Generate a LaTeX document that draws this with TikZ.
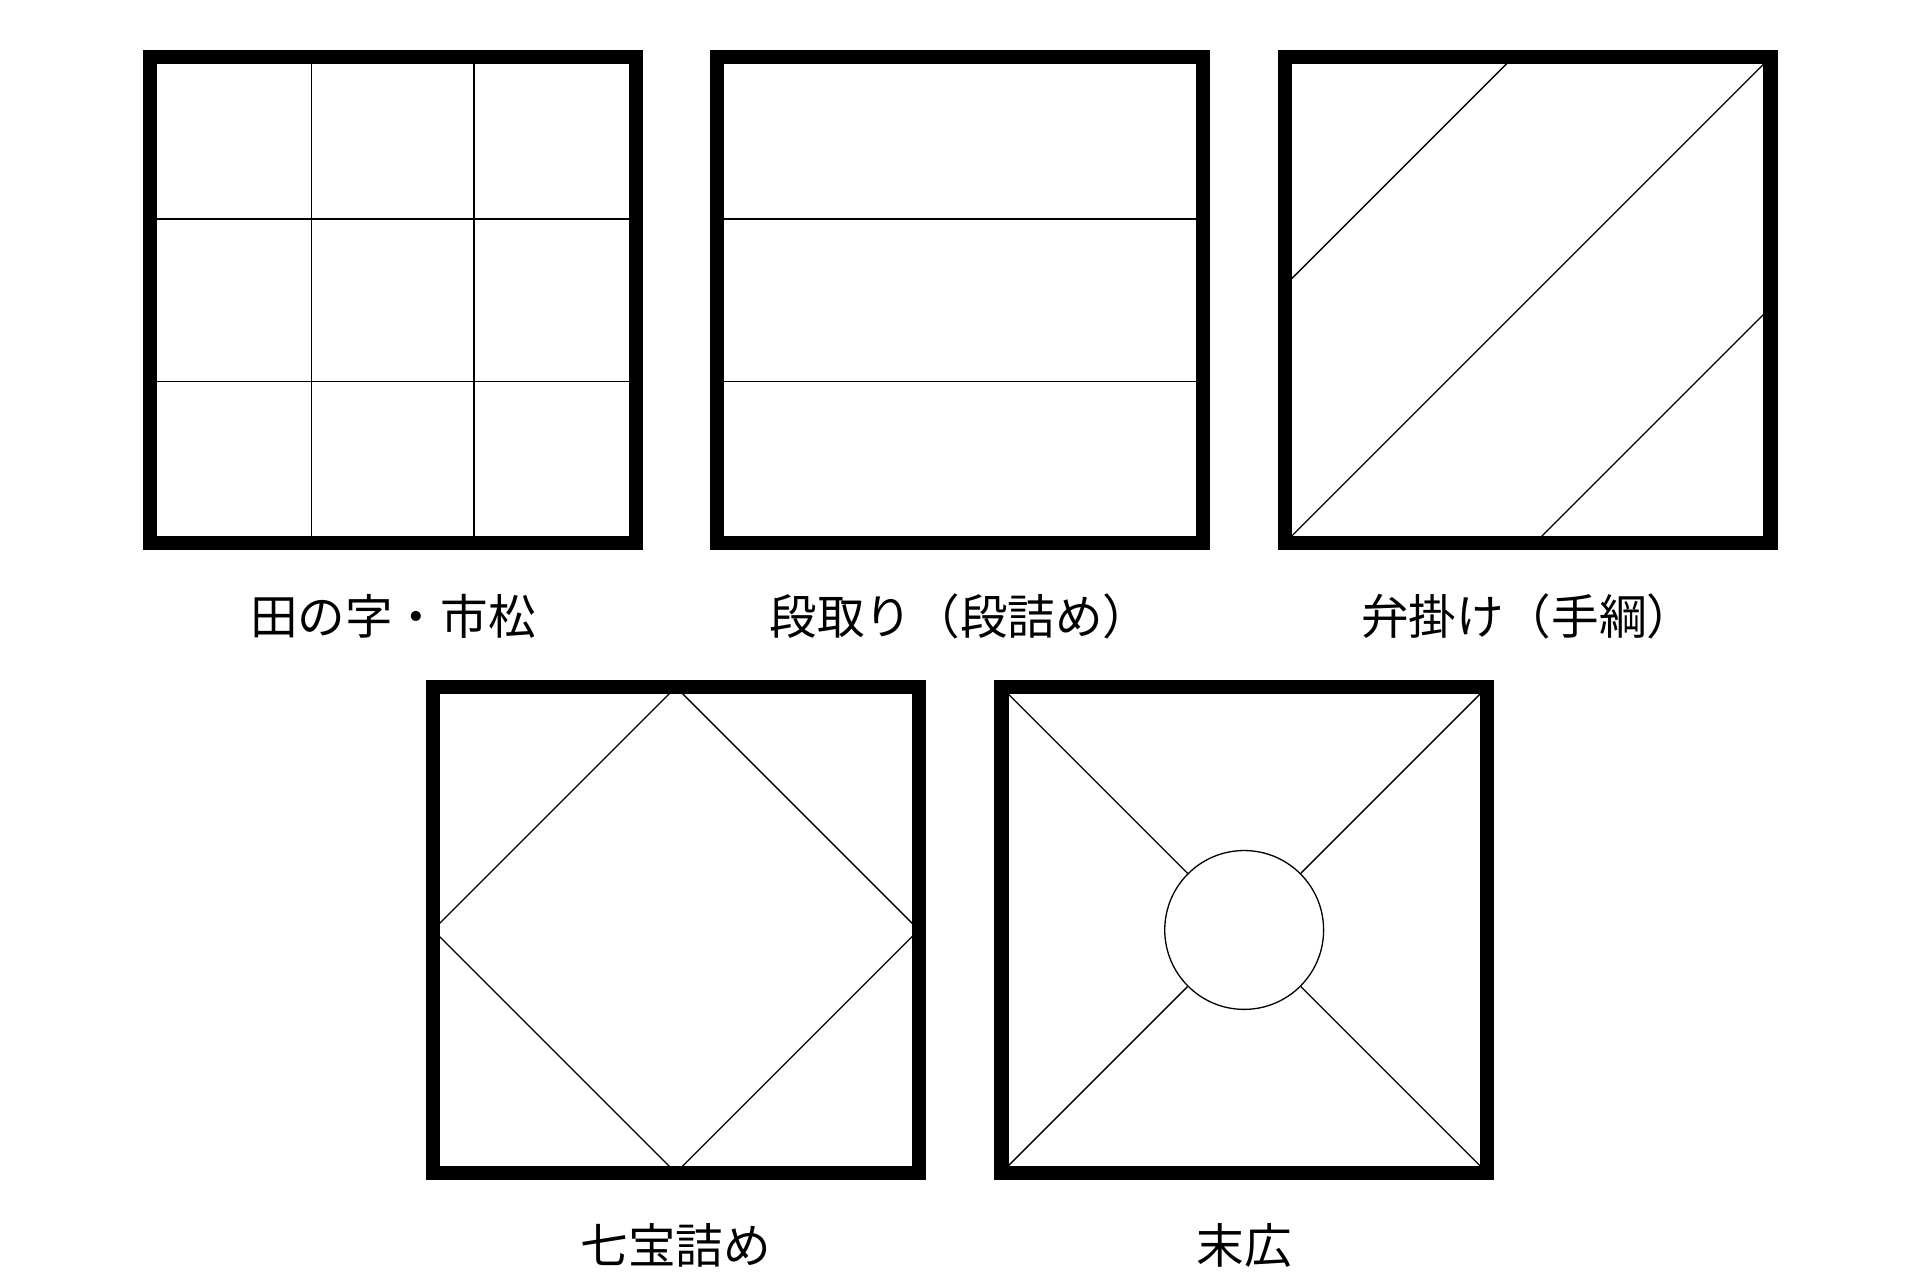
\documentclass[tikz,border=0pt]{standalone}
\usepackage{fontspec}
\newfontfamily\jpfont{Noto Sans CJK JP}
\usetikzlibrary{positioning,calc}

\begin{document}
\begin{tikzpicture}[x=0.01cm,y=-0.01cm]
 \tikzset{panel/.style={draw,line width=0.118cm,minimum size=3.945cm,inner sep=0,outer sep=0},
  seam/.style={line width=0.3pt},
  hub/.style={draw,circle,line width=0.3pt,minimum size=1.29cm,inner sep=0},
  caption/.style={font=\jpfont\fontsize{11pt}{13pt}\selectfont}}
 \useasboundingbox (0,0) rectangle (1560,1040);

 \node[panel] (tanoji) at (319.2,243.8) {};
 \node[panel] (dandori) at (780,243.8) {};
 \node[panel] (benkake) at (1241.3,243.8) {};
 \node[panel] (shippo) at (549.2,755.6) {};
 \node[panel] (suehiro) at (1010.9,755.6) {};

 \draw[seam] ($(tanoji.north west)!0.333!(tanoji.north east)$) -- ($(tanoji.south west)!0.333!(tanoji.south east)$);
 \draw[seam] ($(tanoji.north west)!0.667!(tanoji.north east)$) -- ($(tanoji.south west)!0.667!(tanoji.south east)$);
 \draw[seam] ($(tanoji.north west)!0.333!(tanoji.south west)$) -- ($(tanoji.north east)!0.333!(tanoji.south east)$);
 \draw[seam] ($(tanoji.north west)!0.667!(tanoji.south west)$) -- ($(tanoji.north east)!0.667!(tanoji.south east)$);

 \draw[seam] ($(dandori.north west)!0.333!(dandori.south west)$) -- ($(dandori.north east)!0.333!(dandori.south east)$);
 \draw[seam] ($(dandori.north west)!0.667!(dandori.south west)$) -- ($(dandori.north east)!0.667!(dandori.south east)$);

 \draw[seam] (benkake.south west) -- (benkake.north east);
 \draw[seam] ($(benkake.north west)!0.47!(benkake.north east)$) -- ($(benkake.north west)!0.47!(benkake.south west)$);
 \draw[seam] ($(benkake.north east)!0.515!(benkake.south east)$) -- ($(benkake.south west)!0.515!(benkake.south east)$);

 \draw[seam] (shippo.north) -- (shippo.east) -- (shippo.south) -- (shippo.west) -- cycle;

 \node[hub] (hub) at (suehiro.center) {};
 \draw[seam] (suehiro.north west) -- (hub);
 \draw[seam] (suehiro.north east) -- (hub);
 \draw[seam] (suehiro.south west) -- (hub);
 \draw[seam] (suehiro.south east) -- (hub);

 \node[caption] (tanoji-label) at (319.2,500.6) {田の字・市松};
 \node[caption] (dandori-label) at (780,500.6) {段取り（段詰め）};
 \node[caption] (benkake-label) at (1241.3,500.6) {弁掛け（手綱）};
 \node[caption] (shippo-label) at (549.2,1011.7) {七宝詰め};
 \node[caption] (suehiro-label) at (1010.9,1011.7) {末広};
\end{tikzpicture}
\end{document}
